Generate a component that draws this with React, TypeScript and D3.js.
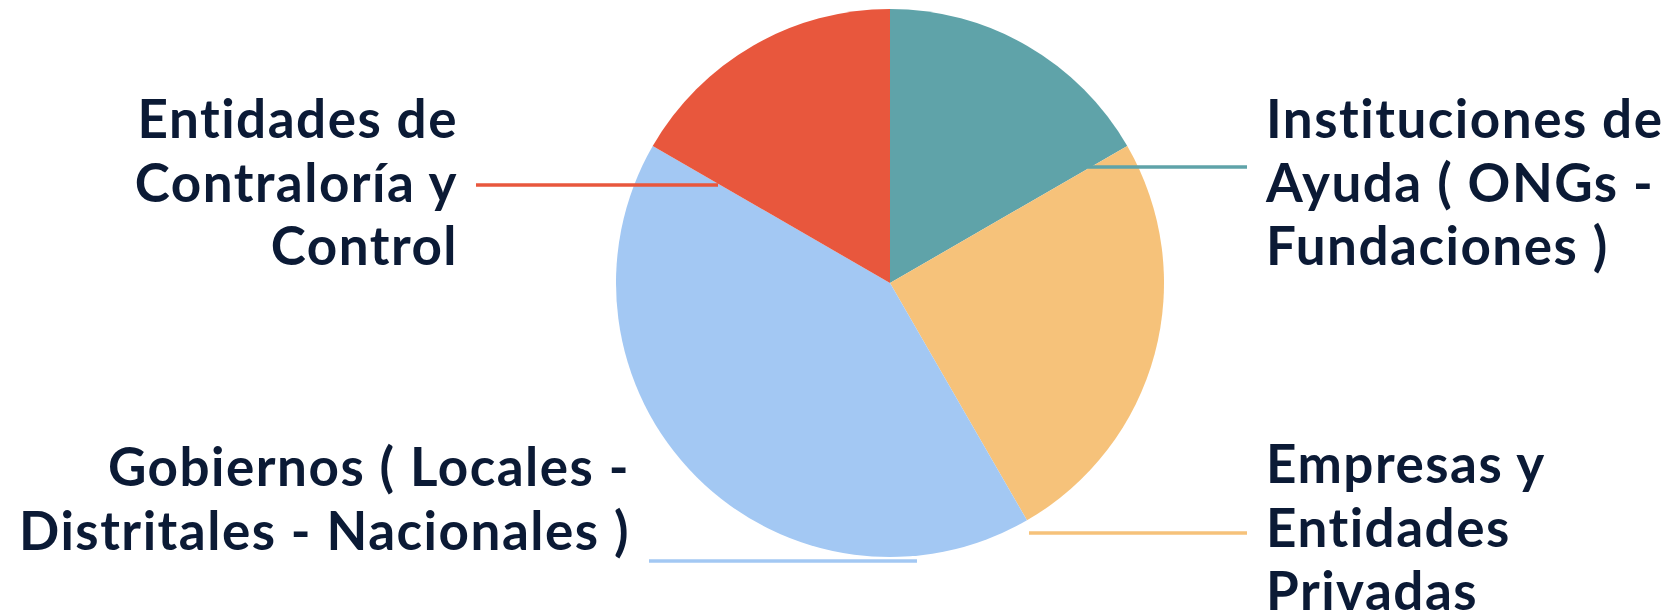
import React from "react";
import * as d3 from "d3";

const categories = [
  "Instituciones de Ayuda ( ONGs - Fundaciones )",
  "Empresas y Entidades Privadas",
  "Gobiernos ( Locales - Distritales - Nacionales )",
  "Entidades de Contraloría y Control",
];
const values = [2, 3, 5, 2];
const labelLines = [
  ["Instituciones de", "Ayuda ( ONGs -", "Fundaciones )"],
  ["Empresas y", "Entidades", "Privadas"],
  ["Gobiernos ( Locales -", "Distritales - Nacionales )"],
  ["Entidades de", "Contraloría y", "Control"],
];
const colors = ["#5fa3a9", "#f6c27a", "#a3c8f3", "#e8573d"];

const W = 1664;
const H = 615;
const cx = 890;
const cy = 283;
const R = 274;

// layout of labels / leader lines (screen positions)
const layout = [
  { anchor: "start", tx: 1266, ty: 138, line: [1088, 1247, 167] },
  { anchor: "start", tx: 1266, ty: 483, line: [1029, 1247, 533] },
  { anchor: "end", tx: 630, ty: 486, line: [649, 917, 561] },
  { anchor: "end", tx: 458, ty: 138, line: [476, 718, 185] },
];

export default function App() {
  const pie = d3.pie<number>().sort(null).startAngle(0).endAngle(2 * Math.PI);
  const arcs = pie(values);
  const arc = d3.arc<d3.PieArcDatum<number>>().innerRadius(0).outerRadius(R);
  const lineH = 63.5;
  return (
    <svg
      width={W}
      height={H}
      style={{ position: "absolute", left: 0, top: 0, background: "#fff" }}
      fontFamily="Lato, sans-serif"
    >
      <g transform={`translate(${cx},${cy})`}>
        {arcs.map((a, i) => (
          <path key={categories[i]} d={arc(a) || ""} fill={colors[i]} />
        ))}
      </g>
      {layout.map((l, i) => (
        <line
          key={"l" + i}
          x1={l.line[0]}
          x2={l.line[1]}
          y1={l.line[2]}
          y2={l.line[2]}
          stroke={colors[i]}
          strokeWidth={3.5}
        />
      ))}
      {layout.map((l, i) => (
        <text
          key={"t" + i}
          x={l.tx}
          y={l.ty}
          textAnchor={l.anchor as any}
          fill="#0b1a35"
          fontSize={53}
          fontWeight={700}
          letterSpacing={1.5}
        >
          {labelLines[i].map((s, j) => (
            <tspan key={j} x={l.tx} y={l.ty + j * lineH}>
              {s}
            </tspan>
          ))}
        </text>
      ))}
    </svg>
  );
}
